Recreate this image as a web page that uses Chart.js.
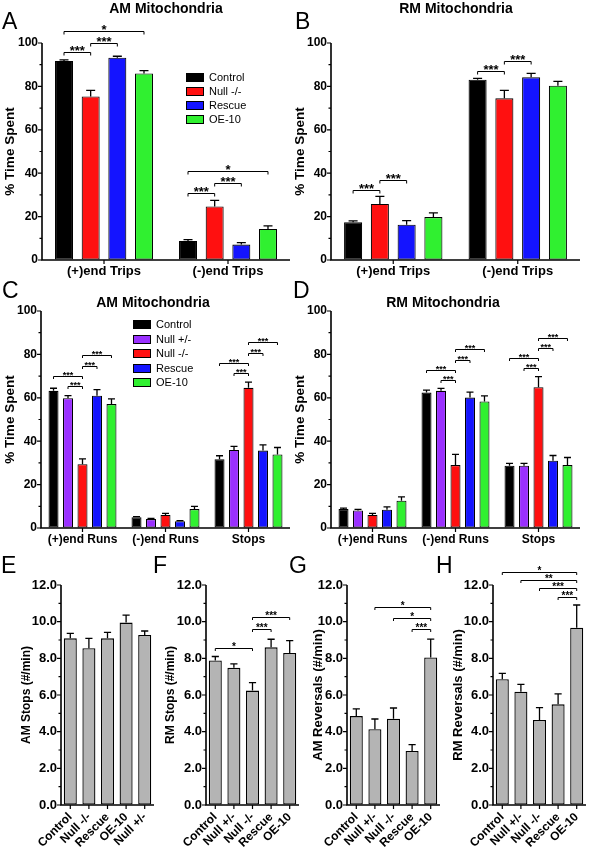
<!DOCTYPE html>
<html><head><meta charset="utf-8">
<script src="https://cdn.jsdelivr.net/npm/chart.js@4.4.1/dist/chart.umd.min.js"></script>
<style>
body{margin:0;background:#fff;width:589px;height:853px;overflow:hidden;position:relative;font-family:"Liberation Sans",Arial,Helvetica,sans-serif;color:#000;}
canvas{position:absolute;}
.t{position:absolute;white-space:nowrap;}
.letter{font-size:23px;line-height:22px;}
.title{font-weight:bold;font-size:14px;line-height:14px;transform:translateX(-50%);}
.leg{position:absolute;font-size:11px;line-height:11px;white-space:nowrap;}
.sw{position:absolute;width:18px;height:9px;border:1px solid #000;box-sizing:border-box;}
</style></head><body>
<script>
// ---------- data ----------
const catsTrips = ['(+)end Trips', '(-)end Trips'];
const catsRuns = ['(+)end Runs', '(-)end Runs', 'Stops'];
const groupsTrips = ['Control', 'Null -/-', 'Rescue', 'OE-10'];
const groupsRuns = ['Control', 'Null +/-', 'Null -/-', 'Rescue', 'OE-10'];
const pctTicks = [0, 20, 40, 60, 80, 100];
const rateTicks = [0, 2, 4, 6, 8, 10, 12];

// A: AM mitochondria trips (rows = genotype, columns = category)
const amTripsMean = [[91.7, 8.8], [75.4, 24.7], [93.2, 7.1], [86.0, 14.3]];
const amTripsErr = [[0.5, 0.6], [2.8, 2.8], [0.7, 0.9], [1.3, 1.4]];
// B: RM mitochondria trips
const rmTripsMean = [[17.4, 83.1], [25.8, 74.5], [16.3, 84.2], [19.8, 80.3]];
const rmTripsErr = [[0.6, 0.6], [3.5, 3.7], [1.8, 1.8], [1.9, 2.0]];
// C: AM mitochondria runs
const amRunsMean = [[63.2, 4.9, 31.7], [59.8, 4.1, 36.0], [29.4, 6.0, 64.6], [61.0, 3.1, 35.7], [57.1, 8.7, 33.9]];
const amRunsErr = [[1.2, 0.3, 1.6], [1.2, 0.3, 1.6], [2.5, 0.7, 2.6], [2.8, 0.3, 2.6], [2.4, 1.3, 3.2]];
// D: RM mitochondria runs
const rmRunsMean = [[8.7, 62.4, 28.7], [8.1, 63.2, 28.7], [6.0, 29.0, 64.9], [8.4, 60.1, 31.0], [12.6, 58.3, 29.0]];
const rmRunsErr = [[0.5, 1.1, 1.1], [0.5, 1.1, 1.1], [0.7, 4.9, 4.9], [1.3, 2.5, 2.4], [1.7, 2.6, 3.5]];

// E-H: rates
const amStopsLabels = ['Control', 'Null -/-', 'Rescue', 'OE-10', 'Null +/-'];
const amStopsMean = [9.09, 8.55, 9.09, 9.95, 9.27];
const amStopsErr = [0.27, 0.54, 0.33, 0.41, 0.22];
const rateLabels = ['Control', 'Null +/-', 'Null -/-', 'Rescue', 'OE-10'];
const rmStopsMean = [7.88, 7.48, 6.24, 8.60, 8.29];
const rmStopsErr = [0.22, 0.22, 0.43, 0.44, 0.68];
const amRevMean = [4.85, 4.13, 4.71, 2.95, 8.05];
const amRevErr = [0.39, 0.56, 0.58, 0.34, 1.00];
const rmRevMean = [6.86, 6.18, 4.64, 5.49, 9.67];
const rmRevErr = [0.32, 0.40, 0.67, 0.57, 1.24];

// significance brackets: [category, fromSeries, toSeries, height (data units), label]
const sigA = [[0, 0, 1, 95.8, '***'], [0, 1, 2, 100, '***'], [0, 0, 3, 105.5, '*'], [1, 0, 1, 31, '***'], [1, 1, 2, 35.3, '***'], [1, 0, 3, 40.9, '*']];
const sigB = [[0, 0, 1, 32.4, '***'], [0, 1, 2, 37, '***'], [1, 0, 1, 87.1, '***'], [1, 1, 2, 91.5, '***']];
const sigC = [[0, 0, 2, 70.1, '***'], [0, 1, 2, 65.5, '***'], [0, 2, 3, 74.7, '***'], [0, 2, 4, 79.6, '***'],
              [2, 0, 2, 75.9, '***'], [2, 1, 2, 71.3, '***'], [2, 2, 3, 80.8, '***'], [2, 2, 4, 85.6, '***']];
const sigD = [[1, 0, 2, 72.9, '***'], [1, 1, 2, 68.3, '***'], [1, 2, 3, 77.5, '***'], [1, 2, 4, 82.4, '***'],
              [2, 0, 2, 78.2, '***'], [2, 1, 2, 73.6, '***'], [2, 2, 3, 82.8, '***'], [2, 2, 4, 87.7, '***']];
// single-series panels: [fromBar, toBar, height, label]
const sigF = [[0, 2, 8.54, '*'], [2, 3, 9.58, '***'], [2, 4, 10.27, '***']];
const sigG = [[1, 4, 10.78, '*'], [2, 4, 10.22, '*'], [3, 4, 9.58, '***']];
const sigH = [[0, 4, 12.73, '*'], [1, 4, 12.27, '**'], [2, 4, 11.82, '***'], [3, 4, 11.36, '***']];

// ---------- styles ----------
const colTrips = ['#000000', '#ff1010', '#1414ff', '#30f030'];
const colRuns = ['#000000', '#9a30ff', '#ff1010', '#1414ff', '#30f030'];
const GRAY = '#b4b4b4';
const FONT = '"Liberation Sans", Arial, Helvetica, sans-serif';

const prism = {
  id: 'prism',
  afterDatasetsDraw(chart, args, o) {
    const ctx = chart.ctx, ca = chart.chartArea;
    const xs = chart.scales.x, ys = chart.scales.y;
    ctx.save();
    ctx.strokeStyle = '#000';
    ctx.fillStyle = '#000';
    // error bars (upper only)
    chart.data.datasets.forEach((ds, i) => {
      const meta = chart.getDatasetMeta(i);
      meta.data.forEach((bar, k) => {
        const top = ys.getPixelForValue(ds.data[k] + ds.err[k]);
        const cap = Math.max(6, bar.width * o.capFrac);
        ctx.lineWidth = 1.3;
        ctx.beginPath();
        ctx.moveTo(bar.x, bar.y); ctx.lineTo(bar.x, top);
        ctx.moveTo(bar.x - cap / 2, top); ctx.lineTo(bar.x + cap / 2, top);
        ctx.stroke();
      });
    });
    // axes
    ctx.lineWidth = 1.6;
    ctx.lineJoin = 'miter';
    ctx.beginPath();
    ctx.moveTo(ca.left, ys.getPixelForValue(ys.max));
    ctx.lineTo(ca.left, ca.bottom);
    ctx.lineTo(ca.right, ca.bottom);
    ctx.stroke();
    ctx.lineWidth = 1.2;
    ctx.beginPath();
    const n = Math.round((ys.max - ys.min) / o.minorStep);
    for (let j = 0; j <= n; j++) {
      const v = ys.min + j * o.minorStep;
      const y = ys.getPixelForValue(v);
      const len = (j % o.minorPer === 0) ? 4 : 2.5;
      ctx.moveTo(ca.left, y); ctx.lineTo(ca.left - len, y);
    }
    for (let k = 0; k < chart.data.labels.length; k++) {
      const x = xs.getPixelForValue(k);
      ctx.moveTo(x, ca.bottom); ctx.lineTo(x, ca.bottom + 4);
    }
    ctx.stroke();
    // significance brackets
    ctx.lineWidth = 1;
    ctx.textAlign = 'center';
    ctx.textBaseline = 'alphabetic';
    ctx.font = 'bold ' + o.starSize + 'px ' + FONT;
    (o.sig || []).forEach(s => {
      let x1, x2, h, lab;
      if (o.single) {
        const m = chart.getDatasetMeta(0);
        x1 = m.data[s[0]].x; x2 = m.data[s[1]].x; h = s[2]; lab = s[3];
      } else {
        x1 = chart.getDatasetMeta(s[1]).data[s[0]].x;
        x2 = chart.getDatasetMeta(s[2]).data[s[0]].x;
        h = s[3]; lab = s[4];
      }
      const y = Math.round(ys.getPixelForValue(h)) + 0.5;
      ctx.beginPath();
      ctx.moveTo(x1, y + o.tip); ctx.lineTo(x1, y); ctx.lineTo(x2, y); ctx.lineTo(x2, y + o.tip);
      ctx.stroke();
      const gap = 0.3 * o.starSize + 0.8;
      ctx.fillText(lab, (x1 + x2) / 2, y - gap + 0.57 * o.starSize);
    });
    ctx.restore();
  }
};

function makeChart(box, area, cfg) {
  const cv = document.createElement('canvas');
  cv.width = box.w; cv.height = box.h;
  cv.style.left = box.x + 'px'; cv.style.top = box.y + 'px';
  cv.style.width = box.w + 'px'; cv.style.height = box.h + 'px';
  document.body.appendChild(cv);
  const yW = area.l - box.x, xH = box.y + box.h - area.b;
  new Chart(cv, {
    type: 'bar',
    data: { labels: cfg.labels, datasets: cfg.datasets },
    options: {
      responsive: false, animation: false, devicePixelRatio: 1,
      layout: { padding: { left: 0, top: area.t - box.y, right: box.x + box.w - area.r, bottom: 0 } },
      plugins: {
        legend: { display: false }, tooltip: { enabled: false },
        prism: cfg.prism
      },
      scales: {
        x: {
          grid: { display: true, drawOnChartArea: false, color: 'rgba(0,0,0,0)', tickLength: 4 },
          border: { display: false },
          ticks: {
            color: '#000', font: { family: FONT, weight: 'bold', size: cfg.xFont },
            padding: cfg.xPad, autoSkip: false, maxRotation: cfg.rot, minRotation: cfg.rot
          },
          afterFit: s => { s.height = xH; }
        },
        y: {
          min: 0, max: cfg.ymax,
          grid: { display: true, drawOnChartArea: false, color: 'rgba(0,0,0,0)', tickLength: 4 },
          border: { display: false },
          afterBuildTicks: s => { s.ticks = cfg.yTicks.map(v => ({ value: v })); },
          ticks: {
            color: '#000', font: { family: FONT, weight: 'bold', size: cfg.yFont }, padding: 0,
            callback: v => cfg.dec ? Number(v).toFixed(1) : String(v)
          },
          title: {
            display: true, text: cfg.yTitle, color: '#000',
            font: { family: FONT, weight: 'bold', size: cfg.titleFont }, padding: { top: 2, bottom: 0 }
          },
          afterFit: s => { s.width = yW; }
        }
      }
    },
    plugins: [prism]
  });
}

function grouped(means, errs, colors, cat, bar) {
  return means.map((m, i) => ({
    data: m, err: errs[i], backgroundColor: colors[i], borderColor: '#000', borderWidth: 1.1,
    borderSkipped: false, categoryPercentage: cat, barPercentage: bar
  }));
}
function single(mean, err) {
  return [{ data: mean, err: err, backgroundColor: GRAY, borderColor: '#000', borderWidth: 1.3,
    borderSkipped: false, categoryPercentage: 1, barPercentage: 0.7 }];
}

// A
makeChart({ x: 0, y: 0, w: 295, h: 290 }, { l: 42, r: 290, t: 43, b: 260 }, {
  labels: catsTrips, datasets: grouped(amTripsMean, amTripsErr, colTrips, 0.86, 0.675),
  ymax: 100, yTicks: pctTicks, yTitle: '% Time Spent', titleFont: 13.5, yFont: 12, xFont: 13, xPad: 0, rot: 0,
  prism: { minorStep: 10, minorPer: 2, capFrac: 0.5, sig: sigA, starSize: 13, tip: 3 }
});
// B
makeChart({ x: 290, y: 0, w: 299, h: 290 }, { l: 331, r: 580, t: 43, b: 260 }, {
  labels: catsTrips, datasets: grouped(rmTripsMean, rmTripsErr, colTrips, 0.86, 0.675),
  ymax: 100, yTicks: pctTicks, yTitle: '% Time Spent', titleFont: 13.5, yFont: 12, xFont: 13, xPad: 0, rot: 0,
  prism: { minorStep: 10, minorPer: 2, capFrac: 0.5, sig: sigB, starSize: 13, tip: 3 }
});
// C
makeChart({ x: 0, y: 290, w: 295, h: 275 }, { l: 41, r: 290, t: 311, b: 528 }, {
  labels: catsRuns, datasets: grouped(amRunsMean, amRunsErr, colRuns, 0.873, 0.69),
  ymax: 100, yTicks: pctTicks, yTitle: '% Time Spent', titleFont: 13.5, yFont: 12, xFont: 12, xPad: 0, rot: 0,
  prism: { minorStep: 10, minorPer: 2, capFrac: 0.7, sig: sigC, starSize: 9, tip: 2.5 }
});
// D
makeChart({ x: 290, y: 290, w: 299, h: 275 }, { l: 331, r: 580, t: 311, b: 528 }, {
  labels: catsRuns, datasets: grouped(rmRunsMean, rmRunsErr, colRuns, 0.873, 0.69),
  ymax: 100, yTicks: pctTicks, yTitle: '% Time Spent', titleFont: 13.5, yFont: 12, xFont: 12, xPad: 0, rot: 0,
  prism: { minorStep: 10, minorPer: 2, capFrac: 0.7, sig: sigD, starSize: 9, tip: 2.5 }
});
// E
makeChart({ x: 17, y: 555, w: 143, h: 298 }, { l: 61, r: 154, t: 585, b: 805 }, {
  labels: amStopsLabels, datasets: single(amStopsMean, amStopsErr),
  ymax: 12, yTicks: rateTicks, dec: true, yTitle: 'AM Stops (#/min)', titleFont: 12, yFont: 13, xFont: 12, xPad: 1, rot: 45,
  prism: { minorStep: 1, minorPer: 2, capFrac: 0.55, sig: [], single: true, starSize: 10, tip: 2.5 }
});
// F
makeChart({ x: 161, y: 555, w: 144, h: 298 }, { l: 206, r: 299, t: 585, b: 805 }, {
  labels: rateLabels, datasets: single(rmStopsMean, rmStopsErr),
  ymax: 12, yTicks: rateTicks, dec: true, yTitle: 'RM Stops (#/min)', titleFont: 12, yFont: 13, xFont: 12, xPad: 1, rot: 45,
  prism: { minorStep: 1, minorPer: 2, capFrac: 0.55, sig: sigF, single: true, starSize: 10, tip: 2.5 }
});
// G
makeChart({ x: 309, y: 555, w: 137, h: 298 }, { l: 347, r: 440, t: 585, b: 805 }, {
  labels: rateLabels, datasets: single(amRevMean, amRevErr),
  ymax: 12, yTicks: rateTicks, dec: true, yTitle: 'AM Reversals (#/min)', titleFont: 13, yFont: 13, xFont: 12, xPad: 1, rot: 45,
  prism: { minorStep: 1, minorPer: 2, capFrac: 0.55, sig: sigG, single: true, starSize: 10, tip: 2.5 }
});
// H
makeChart({ x: 449, y: 555, w: 140, h: 298 }, { l: 493, r: 586, t: 585, b: 805 }, {
  labels: rateLabels, datasets: single(rmRevMean, rmRevErr),
  ymax: 12, yTicks: rateTicks, dec: true, yTitle: 'RM Reversals (#/min)', titleFont: 13, yFont: 13, xFont: 12, xPad: 1, rot: 45,
  prism: { minorStep: 1, minorPer: 2, capFrac: 0.55, sig: sigH, single: true, starSize: 10, tip: 2.5 }
});

// ---------- text overlays ----------
function addText(cls, text, x, y) {
  const d = document.createElement('div');
  d.className = 't ' + cls; d.textContent = text;
  d.style.left = x + 'px'; d.style.top = y + 'px';
  document.body.appendChild(d);
}
[['A', 2, 10], ['B', 295, 10], ['C', 2, 279], ['D', 293, 279],
 ['E', 1, 554], ['F', 153, 554], ['G', 289, 554], ['H', 436, 554]].forEach(l => addText('letter', l[0], l[1], l[2]));
addText('title', 'AM Mitochondria', 166, 1);
addText('title', 'RM Mitochondria', 456, 1);
addText('title', 'AM Mitochondria', 153, 295);
addText('title', 'RM Mitochondria', 443, 295);

function legend(names, colors, x, y, step) {
  names.forEach((nm, i) => {
    const s = document.createElement('div');
    s.className = 'sw'; s.style.left = x + 'px'; s.style.top = (y + i * step) + 'px';
    s.style.background = colors[i];
    document.body.appendChild(s);
    const t = document.createElement('div');
    t.className = 'leg'; t.textContent = nm;
    t.style.left = (x + 23) + 'px'; t.style.top = (y + i * step - 1) + 'px';
    document.body.appendChild(t);
  });
}
legend(groupsTrips, colTrips, 186, 73, 14);
legend(groupsRuns, colRuns, 133, 320, 14.6);
</script>
</body></html>
